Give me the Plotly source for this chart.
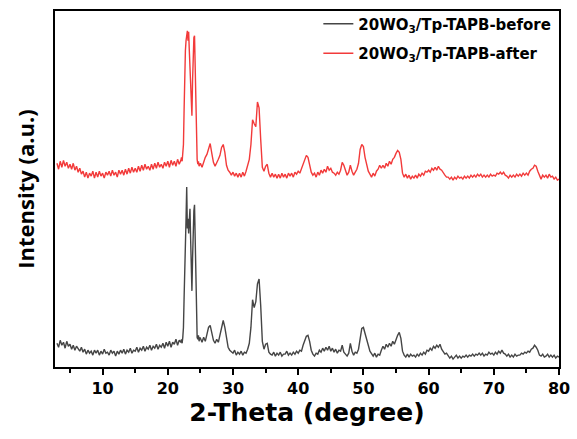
import numpy as np
import plotly.graph_objects as go

# 2-theta sampling grid (degrees): coarse, fine around main WO3 triplet, coarse
two_theta = np.concatenate([
    np.round(np.arange(3.00, 21.76, 0.25), 2),
    np.round(np.arange(22.0, 24.91, 0.1), 2),
    np.round(np.arange(25.00, 80.001, 0.25), 2),
])

before_low = [24,20,27,22,25,19,26,21, 23,18,22,17,21,19,16,20, 15,18,13,17,14,16,12,17,
              14,17,12,16,13,18,14,15, 12,17,14,16,11,16,13,17, 14,18,13,17,15,19,14,17,
              16,20,15,19,17,21,16,20, 18,22,17,21,19,23,18,22, 20,24,19,25,21,26,20,25,
              23,28,22,27]
before_peak = [25,28,24,30,40,70,110,140,150,182,140,150,135,148,160,130,100,77,110,145,
               158,164,130,80,45,30,28,32,26,30]
before_high = [29,25,30,26, 33,40,42,35, 27,24,28,25, 32,42,47,40, 27,20,17,15, 14,17,12,15,
               13,16,12,15, 14,18,24,40, 68,60,66,84, 89,62,26,18, 23,24,15,13, 12,15,11,14,
               12,15,11,13, 13,16,12,14, 12,15,13,16, 14,17,16,22, 26,31,32,26, 17,13,11,14,
               13,17,15,19, 16,20,17,21, 16,19,15,18, 14,17,16,22, 15,13,11,14, 24,16,12,15,
               14,18,30,39, 40,33,28,22, 16,13,11,14, 10,13,12,17, 21,18,23,20, 24,21,26,23,
               28,32,35,29, 16,12,10,13, 10,13,11,12, 10,13,11,14, 12,15,13,17, 16,19,17,21,
               19,22,20,23, 18,16,13,14, 11,9,11,8, 10,12,9,11, 9,11,10,12, 10,12,11,13,
               11,13,12,14, 12,14,11,13, 12,15,13,14, 12,15,13,16, 14,17,14,13, 11,13,10,12,
               10,13,11,12, 12,14,13,15, 14,16,15,18, 19,22,20,17, 12,11,13,10, 11,13,10,12,
               10,12,9,11, 10]

after_low = [206,200,208,202,209,203,207,201, 205,200,206,199,203,197,201,195,
             198,192,197,191,196,193,198,191, 197,192,198,193,196,191,197,194,
             198,193,199,194,197,192,199,195, 199,194,200,195,201,196,202,197,
             201,197,203,198,204,199,205,200, 203,199,205,200,206,201,207,202,
             205,201,207,203,208,202,209,204, 208,203,210,205]
after_peak = [209,212,208,215,225,260,300,320,330,338,340,330,339,320,300,290,270,254,290,325,
              333,335,300,250,215,210,205,208,203,206]
after_high = [206,202,208,212, 215,222,226,216, 207,203,206,210, 214,222,225,217, 204,199,197,194,
              197,193,196,192, 196,192,197,193, 198,203,210,225, 250,246,243,268, 262,230,202,198,
              203,205,196,192, 196,192,195,191, 195,191,196,192, 195,191,196,193, 196,192,197,195,
              198,196,201,206, 210,214,212,205, 197,194,196,192, 197,194,199,196, 200,197,203,199,
              201,197,196,194, 197,195,199,207, 204,199,194,197, 204,198,194,197, 200,206,220,225,
              223,212,205,198, 195,192,196,193, 198,200,204,201, 204,201,206,203, 208,205,210,212,
              216,219,217,210, 196,192,195,191, 194,190,193,191, 194,191,195,193, 196,194,198,197,
              199,197,201,199, 202,199,203,200, 199,196,194,192, 192,190,192,189, 192,190,193,191,
              192,190,193,191, 193,191,194,192, 194,192,195,193, 195,192,194,192, 194,192,195,193,
              194,193,196,195, 197,195,197,194, 193,191,194,192, 194,192,195,193, 195,193,196,194,
              196,194,198,200, 201,204,203,198, 193,190,194,192, 194,191,195,192, 193,190,192,189,
              190]

before = before_low + before_peak + before_high
after = after_low + after_peak + after_high

series_names = ["20WO<sub>3</sub>/Tp-TAPB-before", "20WO<sub>3</sub>/Tp-TAPB-after"]
series_colors = ["#454545", "#f23a3a"]
x_ticks = [10, 20, 30, 40, 50, 60, 70, 80]
x_minor = [5, 15, 25, 35, 45, 55, 65, 75]

fig = go.Figure()
for name, y, col, grp in [(series_names[0], before, series_colors[0], "a"),
                          (series_names[1], after, series_colors[1], "b")]:
    fig.add_trace(go.Scatter(x=two_theta, y=y, mode="lines", name=name, legendgroup=grp,
                             line=dict(color=col, width=1.4)))

wide = "DejaVu Sans"
fig.update_layout(
    width=577, height=439,
    margin=dict(l=55, r=12, t=7, b=72),
    paper_bgcolor="white", plot_bgcolor="white",
    font=dict(family="Open Sans", color="black"),
    showlegend=True,
    legend=dict(x=0.5225, y=1.01, xanchor="left", yanchor="top",
                bgcolor="rgba(0,0,0,0)", tracegroupgap=7,
                font=dict(family=wide, size=15, weight="bold", color="black")),
    xaxis=dict(range=[2.7, 80], tickvals=x_ticks,
               ticks="outside", ticklen=6, tickwidth=2, tickcolor="black",
               ticklabeloverflow="allow",
               minor=dict(ticks="outside", ticklen=4, tickwidth=1.5, tickcolor="black",
                          tickvals=x_minor),
               showline=True, linewidth=2, linecolor="black", mirror=True,
               showgrid=False, zeroline=False,
               tickfont=dict(family=wide, size=16, weight="bold"),
               title=dict(text="2-Theta (degree)", font=dict(family=wide, size=25, weight="bold"),
                          standoff=3)),
    yaxis=dict(range=[0, 360], showticklabels=False, ticks="",
               showline=True, linewidth=2, linecolor="black", mirror=True,
               showgrid=False, zeroline=False,
               title=dict(text="Intensity (a.u.)", font=dict(size=22, weight="bold"), standoff=12)),
)

fig.write_html("out.html", config={"displayModeBar": False},
               post_script="document.body.style.margin='0';")
